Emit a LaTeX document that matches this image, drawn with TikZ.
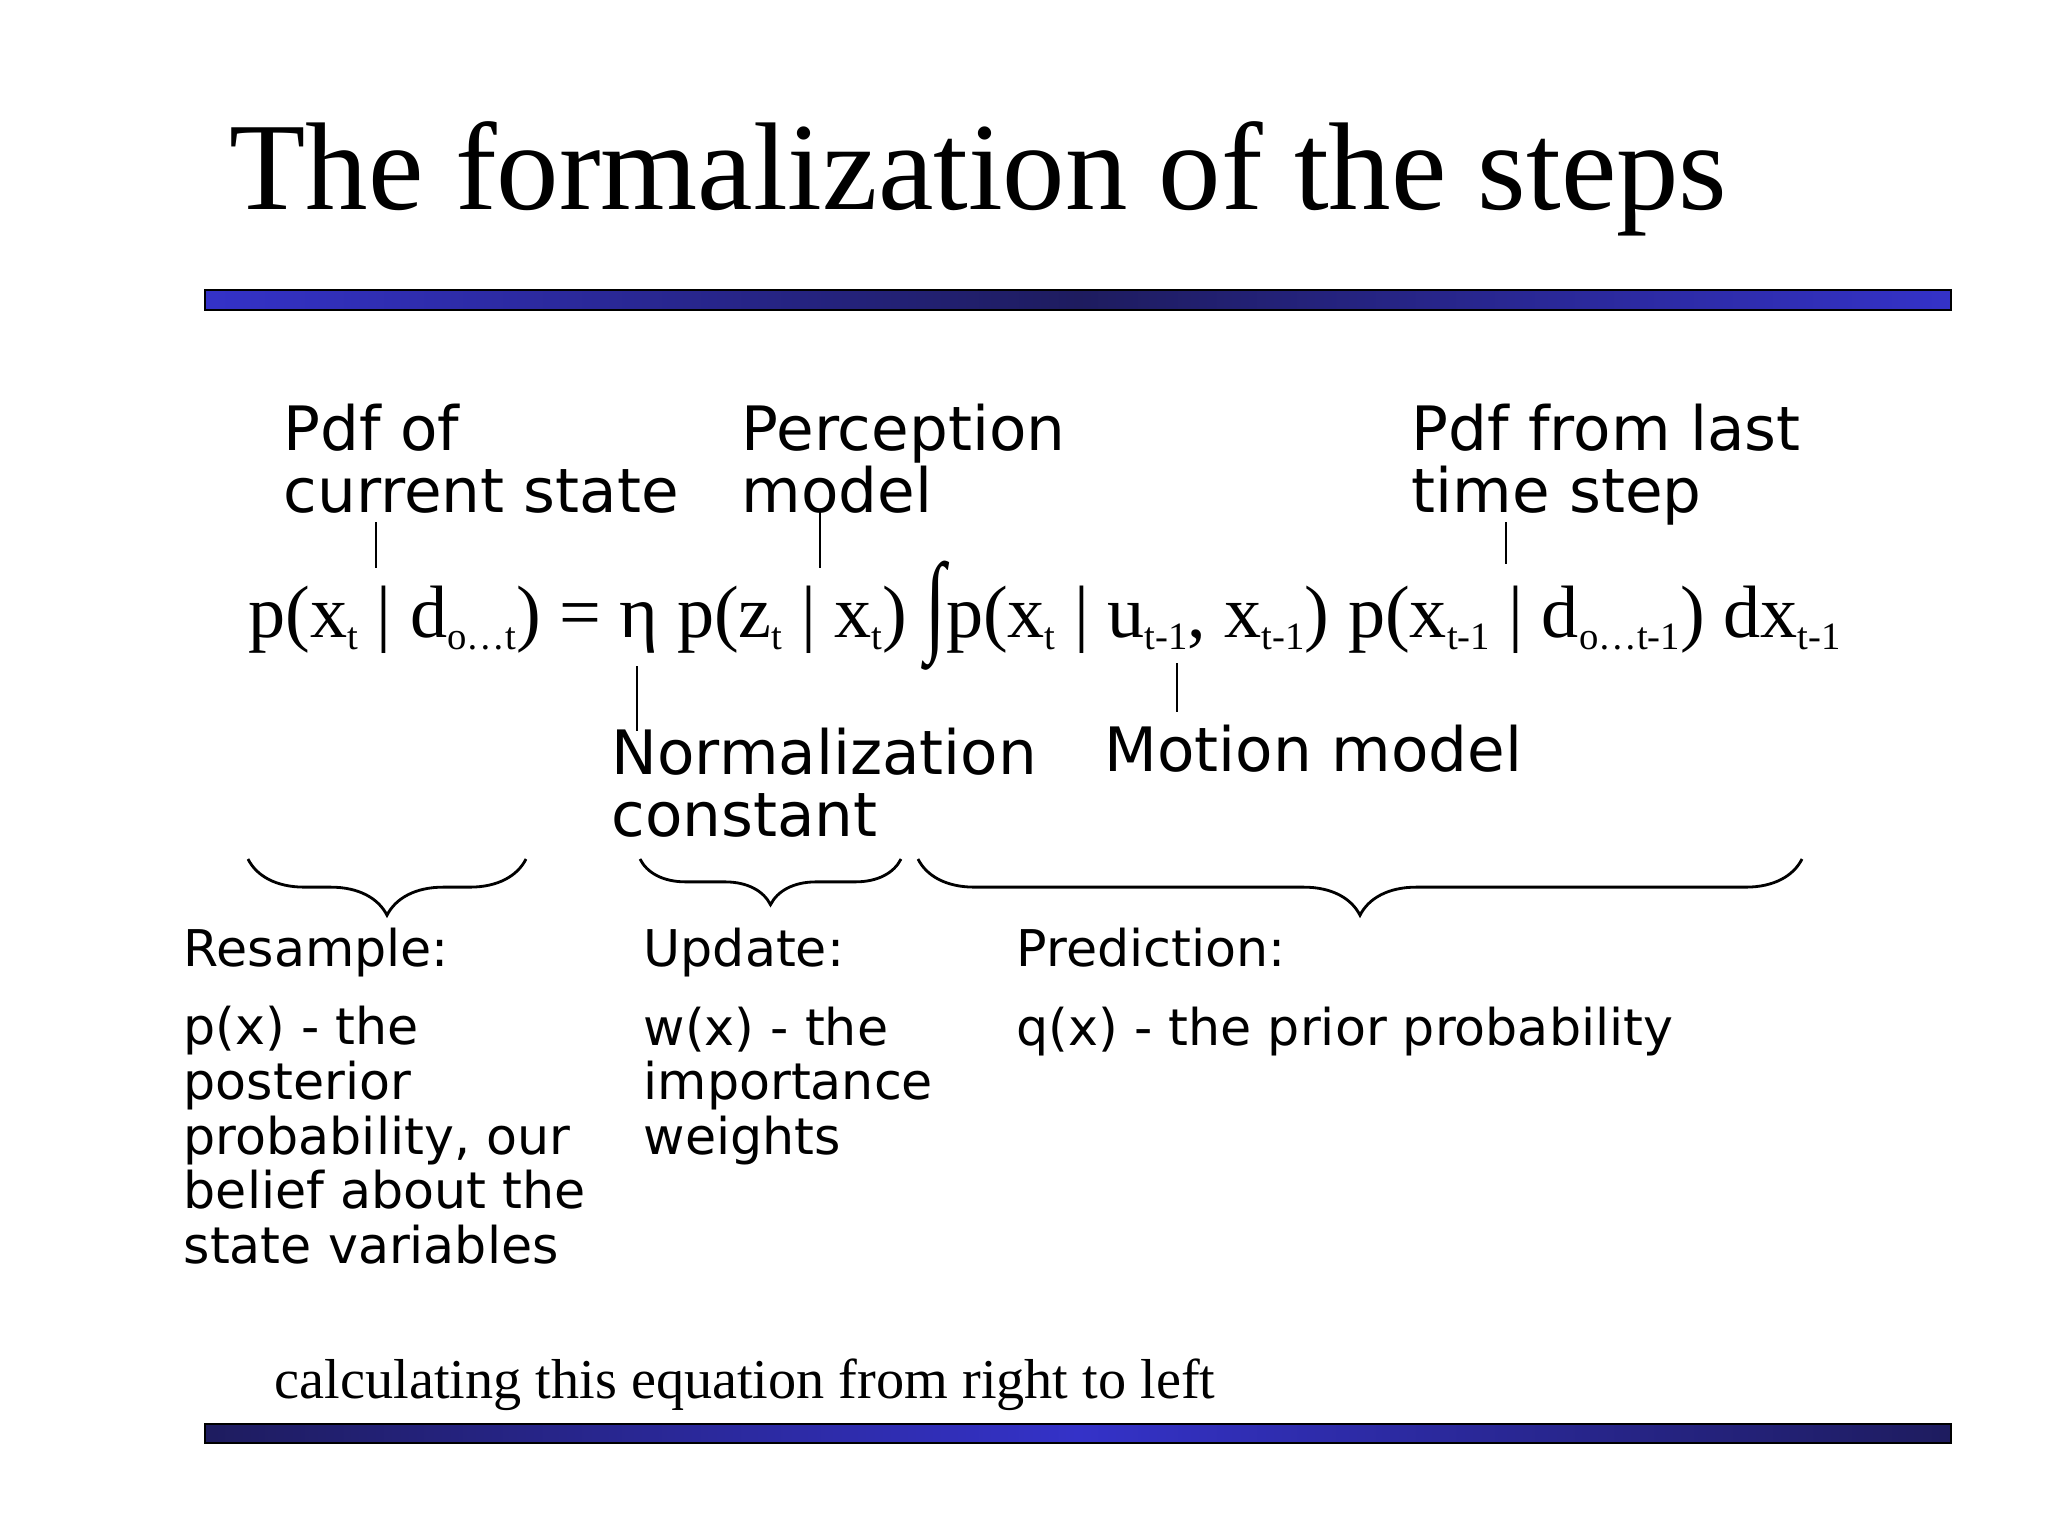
\documentclass[tikz,border=0pt]{standalone}
\usepackage{graphicx}
\usepackage{fontspec}
\setmainfont{Liberation Serif}
\newfontfamily\handfont{DejaVu Sans}
\usetikzlibrary{decorations.pathreplacing}

\definecolor{barblue}{RGB}{52,50,200}
\definecolor{bardark}{RGB}{30,28,95}
\newcommand{\lo}[1]{\raisebox{-3.6pt}{\fontsize{11}{11}\selectfont #1}}
\newcommand{\bigint}{\raisebox{-1pt}{\scalebox{1}[1.5]{∫}}}

\begin{document}
\begin{tikzpicture}[x=0.01cm, y=-0.01cm,
    note/.style={font=\handfont\fontsize{17.4}{17.4}\selectfont, align=left, anchor=base west, inner sep=0pt},
    small/.style={font=\handfont\fontsize{14.4}{15.5}\selectfont, align=left, anchor=base west, inner sep=0pt},
    tick/.style={line width=0.45pt},
    grp/.style={decorate, decoration={brace, mirror, amplitude=#1}, line width=0.8pt}]
    \useasboundingbox (0,0) rectangle (2048,1536);
    \node[anchor=base west, inner sep=0pt, font=\fontsize{35.5}{40}\selectfont] (title) at (229,209) {The formalization of the steps};
    \shade[draw=black, line width=0.8pt, left color=barblue, right color=barblue, middle color=bardark] (205,290) rectangle (1951,310);
    \shade[draw=black, line width=0.8pt, left color=bardark, right color=bardark, middle color=barblue] (205,1424) rectangle (1951,1443);
    % labels above (placed at their last line)
    \node[note] (cur) at (283,512) {Pdf of\\current state};
    \node[note] (perc) at (741,512) {Perception\\model};
    \node[note] (last) at (1411,512) {Pdf from last\\time step};
    % the equation
    \node[anchor=base west, inner sep=0pt, font=\fontsize{21.1}{24}\selectfont] (eq) at (248,637)
      {p(x\lo{t} | d\lo{o\dots t}) = η p(z\lo{t} | x\lo{t}) \bigint p(x\lo{t} | u\lo{t-1}, x\lo{t-1}) p(x\lo{t-1} | d\lo{o\dots t-1}) dx\lo{t-1}};
    % labels below
    \node[note] (norm) at (611,836) {Normalization\\constant};
    \node[note] (motion) at (1104,771) {Motion model};
    \coordinate (cur-a) at (376,522);   \coordinate (cur-b) at (376,568);
    \coordinate (perc-a) at (820,510);  \coordinate (perc-b) at (820,568);
    \coordinate (last-a) at (1506,522); \coordinate (last-b) at (1506,564);
    \coordinate (norm-a) at (637,666);  \coordinate (norm-b) at (637,731);
    \coordinate (mot-a) at (1177,663);  \coordinate (mot-b) at (1177,712);
    \draw[tick] (cur-a) -- (cur-b);
    \draw[tick] (perc-a) -- (perc-b);
    \draw[tick] (last-a) -- (last-b);
    \draw[tick] (norm-a) -- (norm-b);
    \draw[tick] (mot-a) -- (mot-b);
    % braces
    \coordinate (res-l) at (248,859);  \coordinate (res-r) at (526,859);
    \coordinate (upd-l) at (640,859);  \coordinate (upd-r) at (901,859);
    \coordinate (pre-l) at (918,859);  \coordinate (pre-r) at (1802,859);
    \draw[grp=16pt] (res-l) -- (res-r);
    \draw[grp=13pt] (upd-l) -- (upd-r);
    \draw[grp=16pt] (pre-l) -- (pre-r);
    % the three steps
    \node[small] (res) at (183,966) {Resample:};
    \node[small] (upd) at (643,966) {Update:};
    \node[small] (pre) at (1016,966) {Prediction:};
    \node[small] (res-txt) at (183,1263) {p(x) - the\\posterior\\probability, our\\belief about the\\state variables};
    \node[small] (upd-txt) at (643,1154) {w(x) - the\\importance\\weights};
    \node[small] (pre-txt) at (1016,1045) {q(x) - the prior probability};
    \node[anchor=base west, inner sep=0pt, font=\fontsize{16}{18}\selectfont] (foot) at (274,1398) {calculating this equation from right to left};
\end{tikzpicture}
\end{document}
